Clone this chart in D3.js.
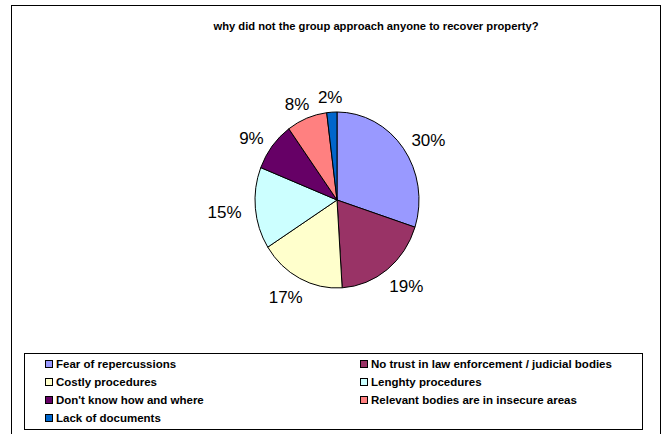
<!DOCTYPE html>
<html>
<head>
<meta charset="utf-8">
<script src="https://cdn.jsdelivr.net/npm/d3@7"></script>
<style>
  html, body { margin: 0; padding: 0; background: #fff; }
  svg { display: block; font-family: "Liberation Sans", Arial, sans-serif; }
</style>
</head>
<body>
<svg id="chart" width="665" height="434"></svg>
<script>
// Survey answers and their share of responses (percent)
const categories = [
  "Fear of repercussions",
  "No trust in law enforcement / judicial bodies",
  "Costly procedures",
  "Lenghty procedures",
  "Don't know how and where",
  "Relevant bodies are in insecure areas",
  "Lack of documents"
];
const values = [30, 19, 17, 15, 9, 8, 2];
const colors = ["#9999FF", "#993366", "#FFFFCC", "#CCFFFF", "#660066", "#FF8080", "#0066CC"];
const title = "why did not the group approach anyone to recover property?";

const svg = d3.select("#chart");

// chart frame
svg.append("rect")
  .attr("x", 11.5).attr("y", 5.5)
  .attr("width", 649).attr("height", 440)
  .attr("fill", "#fff").attr("stroke", "#000").attr("stroke-width", 1);

svg.append("text")
  .attr("x", 376).attr("y", 30)
  .attr("text-anchor", "middle")
  .attr("font-size", 11.2).attr("font-weight", "bold")
  .text(title);

// pie (slightly taller than wide)
const cx = 337, cy = 200, rx = 82, ry = 88;
const pie = d3.pie().sort(null).value(d => d)(values);
const arc = d3.arc().innerRadius(0).outerRadius(rx);

const g = svg.append("g")
  .attr("transform", `translate(${cx},${cy}) scale(1,${ry / rx})`);

g.selectAll("path")
  .data(pie)
  .join("path")
  .attr("d", arc)
  .attr("fill", (d, i) => colors[i])
  .attr("stroke", "#000")
  .attr("stroke-width", 1)
  .attr("vector-effect", "non-scaling-stroke");

// percentage labels: box pushed outward from the rim along the slice's mid angle
const gapX = 14, gapY = 10, halfH = 8, shiftY = 3;
const mid = d => (d.startAngle + d.endAngle) / 2;
svg.append("g").selectAll("text")
  .data(pie)
  .join("text")
  .attr("text-anchor", "middle")
  .attr("dominant-baseline", "central")
  .attr("font-size", 17)
  .text(d => d.data + "%")
  .each(function(d) {
    const a = mid(d), s = Math.sin(a), c = Math.cos(a);
    const halfW = this.getComputedTextLength() / 2;
    d3.select(this)
      .attr("x", cx + rx * s + (halfW + gapX) * s)
      .attr("y", cy + shiftY - ry * c - (halfH + gapY) * c);
  });

// legend
const lg = svg.append("g");
lg.append("rect")
  .attr("x", 24.5).attr("y", 353.5)
  .attr("width", 618).attr("height", 76)
  .attr("fill", "#fff").attr("stroke", "#000").attr("stroke-width", 1);

const colX = [45, 360];
const rowY = 364, rowH = 18;
const items = lg.selectAll("g.item")
  .data(categories)
  .join("g")
  .attr("class", "item")
  .attr("transform", (d, i) => `translate(${colX[i % 2]},${rowY + Math.floor(i / 2) * rowH})`);

items.append("rect")
  .attr("x", 0.5).attr("y", -3.5)
  .attr("width", 7).attr("height", 7)
  .attr("fill", (d, i) => colors[i])
  .attr("stroke", "#000").attr("stroke-width", 1);

items.append("text")
  .attr("x", 11).attr("y", 0)
  .attr("dominant-baseline", "central")
  .attr("font-size", 11.5).attr("font-weight", "bold")
  .text(d => d);
</script>
</body>
</html>
